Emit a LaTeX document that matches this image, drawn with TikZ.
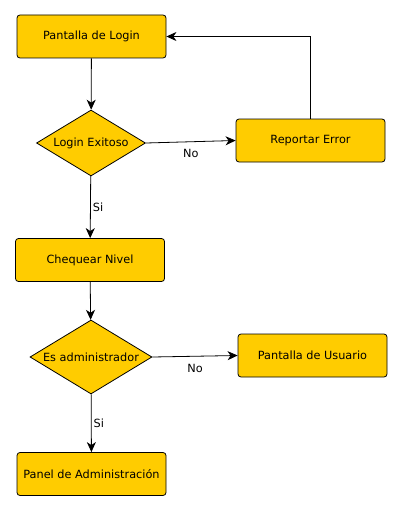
\documentclass[tikz,border=0pt]{standalone}
\usepackage{fontspec}
\setmainfont{DejaVu Sans}
\usetikzlibrary{shapes.geometric,arrows.meta}
\definecolor{amarillo}{HTML}{FFCC00}

\begin{document}
\begin{tikzpicture}[x=1pt,y=1pt,
        caja/.style={draw, fill=amarillo, line width=0.8pt, rounded corners=3pt, minimum width=149pt, minimum height=43pt, font=\fontsize{11.3}{13}\selectfont},
        rombo/.style={draw, fill=amarillo, line width=0.8pt, diamond, aspect=2, inner sep=0pt, font=\fontsize{11.3}{13}\selectfont},
        flecha/.style={line width=0.8pt, -{Stealth[length=10pt,width=9pt,inset=3pt]}},
        etiqueta/.style={font=\fontsize{11.3}{13}\selectfont}]
        \useasboundingbox (0,0) rectangle (403,-511);
        \node[caja] (login) at (91.5,-36.5) {Pantalla de Login};
        \node[rombo, minimum width=109pt, minimum height=66pt] (exitoso) at (91,-143) {Login Exitoso};
        \node[caja] (error) at (310.5,-140.5) {Reportar Error};
        \node[caja] (nivel) at (90,-260) {Chequear Nivel};
        \node[rombo, minimum width=122pt, minimum height=74pt] (admin) at (91,-357) {Es administrador};
        \node[caja] (usuario) at (312.5,-355.5) {Pantalla de Usuario};
        \node[caja] (panel) at (91.5,-474) {Panel de Administración};
        \draw[flecha] (login) -- (exitoso);
        \draw[flecha] (exitoso.east) -- (error.west) node[etiqueta, midway, below=4pt] (no1) {No};
        \draw[flecha] (error.north) |- (login.east);
        \draw[flecha] (exitoso) -- (nivel) node[etiqueta, midway, right, inner sep=2pt] (si1) {Si};
        \draw[flecha] (nivel) -- (admin);
        \draw[flecha] (admin.east) -- (usuario.west) node[etiqueta, midway, below=4pt] (no2) {No};
        \draw[flecha] (admin) -- (panel) node[etiqueta, midway, right, inner sep=2pt] (si2) {Si};
    \end{tikzpicture}
\end{document}
